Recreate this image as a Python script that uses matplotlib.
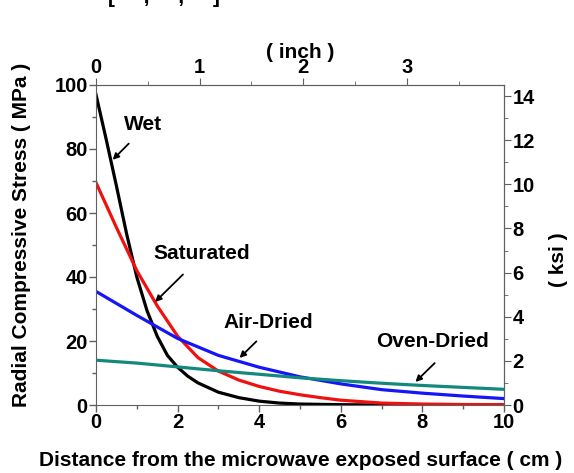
import numpy as np
import matplotlib
matplotlib.use("Agg")
from matplotlib import pyplot as plt
from matplotlib.ticker import MultipleLocator

plt.rcParams['font.family'] = ['Liberation Sans', 'DejaVu Sans']
plt.rcParams['font.weight'] = 'bold'

# stress profiles (distance in cm, stress in MPa)
wet_x = [0, 0.25, 0.5, 0.75, 1, 1.25, 1.5, 1.75, 2, 2.25, 2.5, 3, 3.5, 4, 4.5, 5, 6, 7, 8, 10]
wet_y = [97, 83, 68.5, 53.5, 40, 29.5, 21.5, 15.5, 11.8, 9, 6.9, 4, 2.3, 1.2, 0.6, 0.3, 0.1, 0, 0, 0]

sat_x = [0, 0.5, 1, 1.5, 2, 2.5, 3, 3.5, 4, 4.5, 5, 5.5, 6, 7, 8, 9, 10]
sat_y = [69.5, 55.5, 42, 31, 21.5, 14.8, 10.6, 7.8, 5.8, 4.3, 3.2, 2.3, 1.5, 0.6, 0.3, 0.15, 0.1]

air_x = [0, 1, 2, 3, 4, 5, 6, 7, 8, 9, 10]
air_y = [35.5, 28, 20.8, 15.5, 11.8, 8.8, 6.6, 4.8, 3.7, 2.8, 2.0]

oven_x = [0, 1, 2, 3, 4, 5, 6, 7, 8, 9, 10]
oven_y = [14, 13.1, 11.9, 10.7, 9.6, 8.5, 7.6, 6.8, 6.1, 5.5, 4.9]

CM_PER_INCH = 2.54
KSI_PER_MPA = 0.145038

fig = plt.figure(figsize=(5.74, 4.73), dpi=100)
ax = fig.add_axes([96 / 574, 68 / 473, 408 / 574, 320 / 473])

lw = 2.3
ax.plot(wet_x, wet_y, color='black', lw=lw)
ax.plot(sat_x, sat_y, color='#f01010', lw=lw)
ax.plot(air_x, air_y, color='#1515f5', lw=lw)
ax.plot(oven_x, oven_y, color='#13897e', lw=lw)

ax.set_xlim(0, 10)
ax.set_ylim(0, 100)

spine_col = '#606060'
for s in ax.spines.values():
    s.set_color(spine_col)

tick_fs = 14.5
lab_fs = 15

ax.xaxis.set_major_locator(MultipleLocator(2))
ax.xaxis.set_minor_locator(MultipleLocator(1))
ax.yaxis.set_major_locator(MultipleLocator(20))
ax.yaxis.set_minor_locator(MultipleLocator(10))
ax.tick_params(which='both', direction='out', color=spine_col, labelsize=tick_fs, pad=1)
ax.tick_params(which='major', length=5, width=1)
ax.tick_params(which='minor', length=3, width=1)

# top axis in inches
top = ax.secondary_xaxis('top', functions=(lambda v: v / CM_PER_INCH, lambda v: v * CM_PER_INCH))
top.xaxis.set_major_locator(MultipleLocator(1))
top.xaxis.set_minor_locator(MultipleLocator(0.5))
top.tick_params(which='both', direction='out', color=spine_col, labelsize=tick_fs, pad=1)
top.tick_params(which='major', length=5)
top.tick_params(which='minor', length=3)
top.spines['top'].set_color(spine_col)

# right axis in ksi
right = ax.secondary_yaxis('right', functions=(lambda v: v * KSI_PER_MPA, lambda v: v / KSI_PER_MPA))
right.yaxis.set_major_locator(MultipleLocator(2))
right.yaxis.set_minor_locator(MultipleLocator(1))
right.tick_params(which='both', direction='out', color=spine_col, labelsize=tick_fs, pad=1)
right.tick_params(which='major', length=5)
right.tick_params(which='minor', length=3)
right.spines['right'].set_color(spine_col)

# axis titles, placed where the original has them
fig.text(301 / 574, 1 - 460 / 473, 'Distance from the microwave exposed surface ( cm )',
         fontsize=lab_fs, fontweight='bold', ha='center', va='center')
fig.text(22 / 574, 1 - 235 / 473, 'Radial Compressive Stress ( MPa )',
         fontsize=lab_fs, fontweight='bold', ha='center', va='center', rotation=90)
fig.text(300 / 574, 1 - 52 / 473, '( inch )',
         fontsize=lab_fs, fontweight='bold', ha='center', va='center')
fig.text(558 / 574, 1 - 260 / 473, '( ksi )',
         fontsize=lab_fs, fontweight='bold', ha='center', va='center', rotation=90)

# labels with arrows
arrow = dict(arrowstyle='-|>', color='black', lw=1.3, mutation_scale=9)
ax.annotate('', xy=(0.36, 76.0), xytext=(0.85, 82.3), arrowprops=arrow)
ax.text(1.15, 87.5, 'Wet', fontsize=lab_fs, fontweight='bold', ha='center', va='center')
ax.annotate('', xy=(1.40, 31.6), xytext=(2.18, 41.4), arrowprops=arrow)
ax.text(2.59, 47.4, 'Saturated', fontsize=lab_fs, fontweight='bold', ha='center', va='center')
ax.annotate('', xy=(3.47, 14.1), xytext=(3.98, 20.5), arrowprops=arrow)
ax.text(4.22, 25.9, 'Air-Dried', fontsize=lab_fs, fontweight='bold', ha='center', va='center')
ax.annotate('', xy=(7.78, 6.6), xytext=(8.35, 13.7), arrowprops=arrow)
ax.text(8.24, 19.7, 'Oven-Dried', fontsize=lab_fs, fontweight='bold', ha='center', va='center')

# cropped caption fragment at the very top
fig.text(108 / 574, 1 - 3 / 473, '[     ,     ,     ]', fontsize=lab_fs, fontweight='bold', va='baseline')

fig.savefig('out.png', dpi=100)
